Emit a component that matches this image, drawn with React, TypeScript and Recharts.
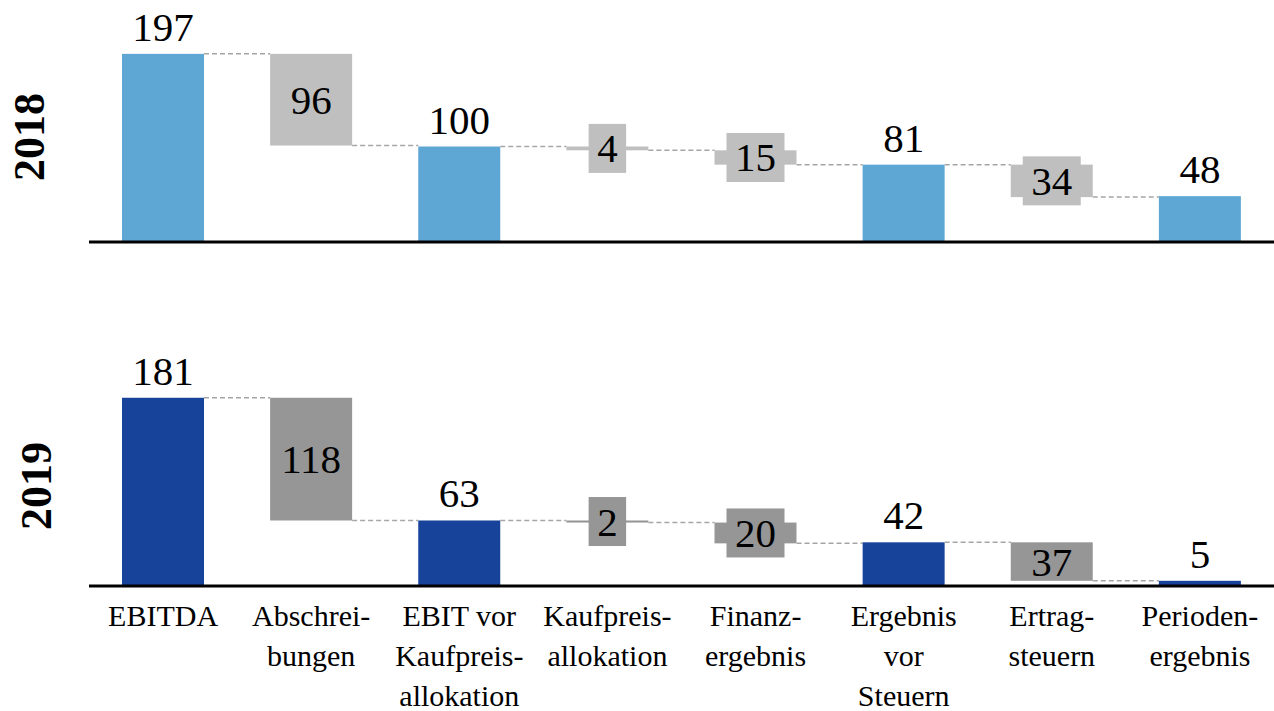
import { BarChart, Bar, XAxis, YAxis } from "recharts";

const categories = [
  "EBITDA",
  "Abschrei-\nbungen",
  "EBIT vor\nKaufpreis-\nallokation",
  "Kaufpreis-\nallokation",
  "Finanz-\nergebnis",
  "Ergebnis\nvor\nSteuern",
  "Ertrag-\nsteuern",
  "Perioden-\nergebnis",
];
const kinds = ["total", "minus", "total", "minus", "minus", "total", "minus", "total"];
const values2018 = [197, 96, 100, 4, 15, 81, 34, 48];
const values2019 = [181, 118, 63, 2, 20, 42, 37, 5];

const W = 1274;
const LEFT = 89;
const BAR = 82;
const GAP = (W - LEFT) / categories.length - BAR;
const SERIF = "Liberation Serif";
const NUM_SIZE = 41;

function buildRows(values: number[]) {
  let level = 0;
  return categories.map((name, i) => {
    const v = values[i];
    if (kinds[i] === "total") {
      level = v;
      return { name, base: 0, value: v, kind: "total", label: v };
    }
    level = level - v;
    return { name, base: level, value: v, kind: "minus", label: v };
  });
}

function makeShape(totalColor: string, minusColor: string) {
  return (props: any) => {
    const { x, y, width, height, payload, index } = props;
    const isTotal = payload.kind === "total";
    const fill = isTotal ? totalColor : minusColor;
    const level = isTotal ? y : y + height;
    const last = index === categories.length - 1;
    const cx = x + width / 2;
    const cy = y + height / 2;
    const txt = String(payload.label);
    const boxW = txt.length * NUM_SIZE * 0.5 + 17;
    const boxH = 49;
    return (
      <g>
        <rect x={x} y={y} width={width} height={Math.max(height, 1)} fill={fill} />
        {!last && (
          <line
            x1={x + width}
            x2={x + width + GAP}
            y1={level}
            y2={level}
            stroke="#A6A6A6"
            strokeWidth={1.5}
            strokeDasharray="5 3"
          />
        )}
        {isTotal ? (
          <text x={cx} y={y - 13} textAnchor="middle" fontFamily={SERIF} style={{ fontFamily: SERIF, fontSize: NUM_SIZE }} fill="#000">
            {txt}
          </text>
        ) : (
          <g>
            {height < 35 && (
              <rect x={cx - boxW / 2} y={cy - boxH / 2} width={boxW} height={boxH} fill={fill} />
            )}
            <text x={cx} y={cy + 14} textAnchor="middle" fontFamily={SERIF} style={{ fontFamily: SERIF, fontSize: NUM_SIZE }} fill="#000">
              {txt}
            </text>
          </g>
        )}
      </g>
    );
  };
}

const CategoryTick = (props: any) => {
  const { x, y, payload } = props;
  const lines = String(payload.value).split("\n");
  return (
    <g>
      {lines.map((l, i) => (
        <text
          key={i}
          x={x}
          y={y + 38 + i * 40}
          textAnchor="middle"
          fontFamily={SERIF}
          style={{ fontFamily: SERIF, fontSize: 30 }}
          fill="#000"
        >
          {l}
        </text>
      ))}
    </g>
  );
};

const yearStyle = (top: number, left: number): React.CSSProperties => ({
  position: "absolute",
  left,
  top,
  transform: "translate(-50%, -50%) rotate(-90deg)",
  fontFamily: SERIF,
  fontWeight: "bold",
  fontSize: 44,
  lineHeight: 1,
  color: "#000",
});

export default function App() {
  const rows2018 = buildRows(values2018);
  const rows2019 = buildRows(values2019);
  return (
    <div style={{ position: "absolute", left: 0, top: 0, width: W, height: 711, background: "#fff", overflow: "hidden", fontFamily: SERIF }}>
      <div style={{ position: "absolute", left: 0, top: 1 }}>
        <BarChart width={W} height={245} data={rows2018} margin={{ top: 50, right: 0, left: LEFT, bottom: 0 }} barSize={BAR}>
          <XAxis dataKey="name" height={4} tick={false} tickLine={false} axisLine={{ stroke: "#000", strokeWidth: 3 }} />
          <YAxis hide domain={[0, 200]} />
          <Bar dataKey="base" stackId="a" fill="transparent" isAnimationActive={false} />
          <Bar dataKey="value" stackId="a" isAnimationActive={false} shape={makeShape("#5EA7D5", "#BFBFBF")} />
        </BarChart>
      </div>
      <div style={{ position: "absolute", left: 0, top: 331 }}>
        <BarChart width={W} height={380} data={rows2019} margin={{ top: 47, right: 0, left: LEFT, bottom: 0 }} barSize={BAR}>
          <XAxis
            dataKey="name"
            height={125}
            interval={0}
            tickLine={false}
            tickSize={0}
            axisLine={{ stroke: "#000", strokeWidth: 3 }}
            tick={<CategoryTick />}
          />
          <YAxis hide domain={[0, 200]} />
          <Bar dataKey="base" stackId="a" fill="transparent" isAnimationActive={false} />
          <Bar dataKey="value" stackId="a" isAnimationActive={false} shape={makeShape("#17439A", "#969696")} />
        </BarChart>
      </div>
      <div style={yearStyle(137, 30)}>2018</div>
      <div style={yearStyle(486, 37)}>2019</div>
    </div>
  );
}
